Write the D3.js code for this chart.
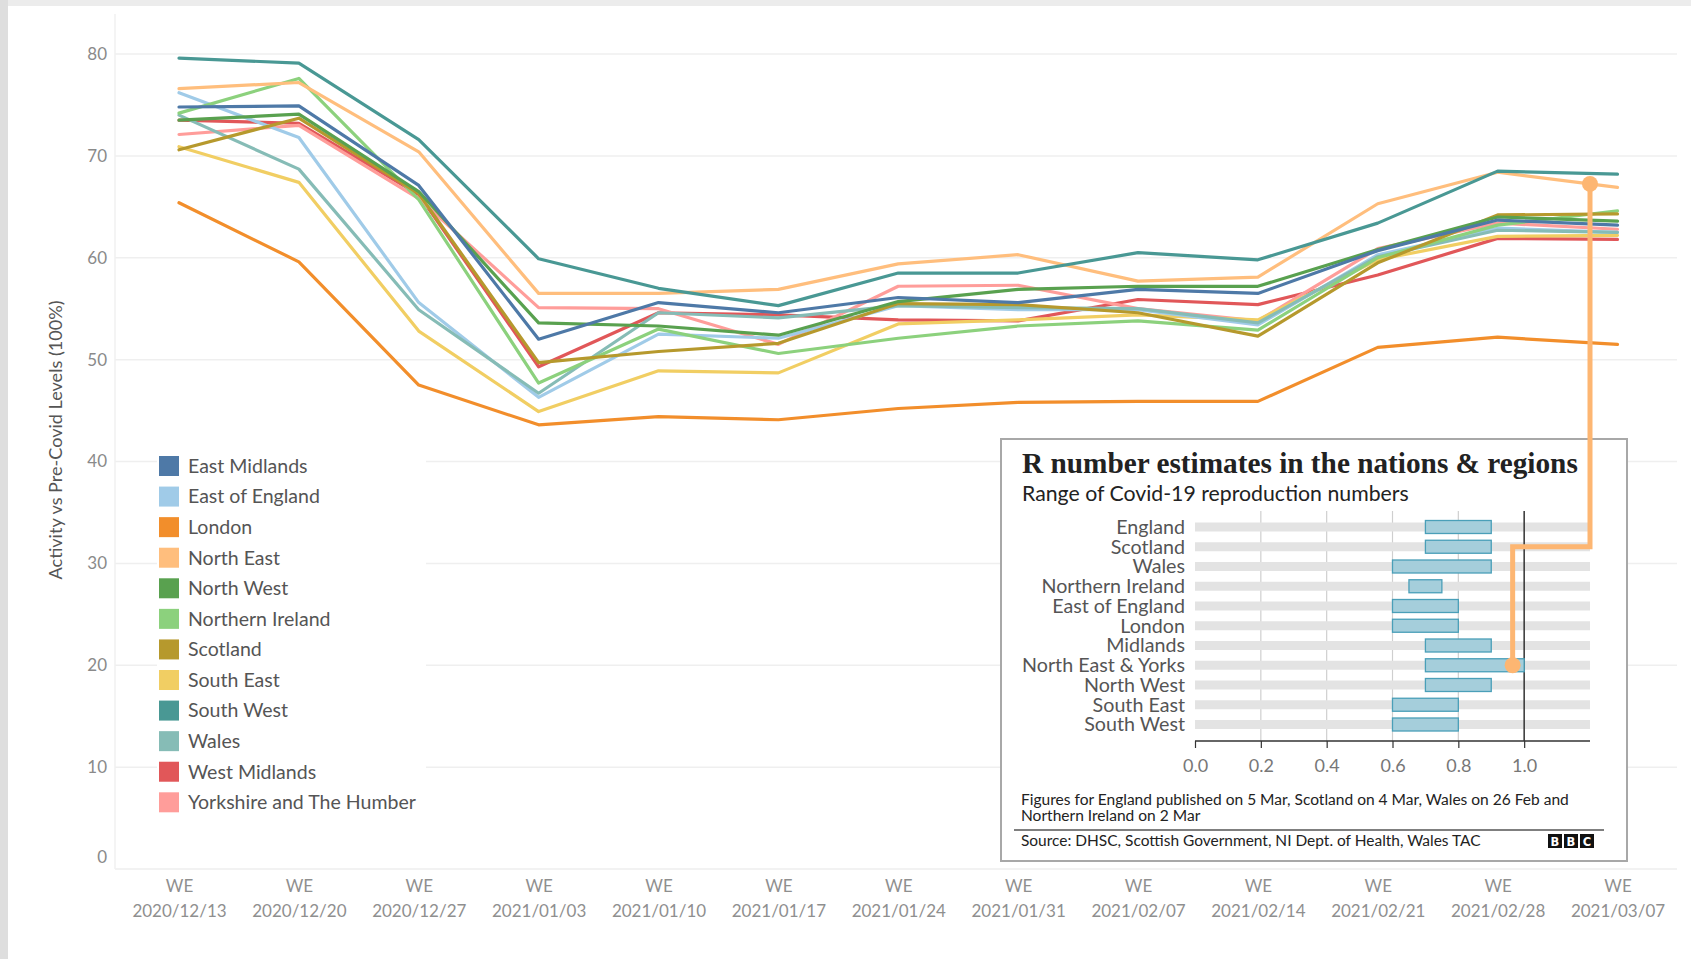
<!DOCTYPE html>
<html><head><meta charset="utf-8">
<script src="https://cdn.jsdelivr.net/npm/d3@7"></script>
<style>body{margin:0;background:#fff;} svg{display:block;}</style>
</head><body><svg id="c" width="1691" height="959"></svg>
<script>
// ---------- DATA ----------
const weeks = ["2020/12/13","2020/12/20","2020/12/27","2021/01/03","2021/01/10","2021/01/17","2021/01/24","2021/01/31","2021/02/07","2021/02/14","2021/02/21","2021/02/28","2021/03/07"];
const regions = ["East Midlands","East of England","London","North East","North West","Northern Ireland","Scotland","South East","South West","Wales","West Midlands","Yorkshire and The Humber"];
const regionColors = ["#4e79a7","#a0cbe8","#f28e2b","#ffbe7d","#59a14f","#8cd17d","#b6992d","#f1ce63","#499894","#86bcb6","#e15759","#ff9d9a"];
const eastMidlands   = [74.8,74.9,67.1,52.0,55.6,54.6,56.1,55.6,56.9,56.5,60.7,63.7,63.2];
const eastOfEngland  = [76.2,71.8,55.6,46.3,52.5,52.1,55.3,54.9,54.9,53.4,60.3,62.9,62.5];
const london         = [65.4,59.6,47.5,43.6,44.4,44.1,45.2,45.8,45.9,45.9,51.2,52.2,51.5];
const northEast      = [76.6,77.2,70.4,56.5,56.5,56.9,59.4,60.3,57.7,58.1,65.3,68.4,66.9];
const northWest      = [73.5,74.1,66.5,53.6,53.3,52.4,55.7,56.9,57.2,57.2,60.8,64.0,63.6];
const northernIreland= [74.2,77.6,65.7,47.7,53.0,50.6,52.1,53.3,53.8,52.9,60.0,63.2,64.6];
const scotland       = [70.6,73.7,66.3,49.7,50.8,51.6,55.5,55.4,54.6,52.3,59.5,64.2,64.3];
const southEast      = [70.9,67.4,52.8,44.9,48.9,48.7,53.5,53.9,54.4,53.9,59.8,62.1,62.2];
const southWest      = [79.6,79.1,71.6,59.9,57.0,55.3,58.5,58.5,60.5,59.8,63.4,68.5,68.2];
const wales          = [74.0,68.7,54.9,46.7,54.6,54.1,55.3,55.1,55.0,53.6,60.1,62.7,62.5];
const westMidlands   = [73.5,73.2,66.2,49.3,54.6,54.4,53.9,53.8,55.9,55.4,58.3,61.9,61.8];
const yorkshire      = [72.1,73.0,65.8,55.1,55.0,51.5,57.2,57.3,55.0,53.8,60.9,63.4,62.8];
const yTicks = [0,10,20,30,40,50,60,70,80];
const drawOrder = ["West Midlands","Yorkshire and The Humber","London","South East","East of England","Wales","Northern Ireland","Scotland","North West","East Midlands","North East","South West"];

const rRegions = ["England","Scotland","Wales","Northern Ireland","East of England","London","Midlands","North East & Yorks","North West","South East","South West"];
const rLow  = [0.7,0.7,0.6,0.65,0.6,0.6,0.7,0.7,0.7,0.6,0.6];
const rHigh = [0.9,0.9,0.9,0.75,0.8,0.8,0.9,1.0,0.9,0.8,0.8];
const rTicks = [0.0,0.2,0.4,0.6,0.8,1.0];

// ---------- SETUP ----------
const svg = d3.select("#c");
const W = 1691, H = 959;
const SANS = "Lato, 'Open Sans', sans-serif";
const seriesValues = [eastMidlands,eastOfEngland,london,northEast,northWest,northernIreland,scotland,southEast,southWest,wales,westMidlands,yorkshire];
const series = regions.map((name,i)=>({name, color: regionColors[i], values: seriesValues[i]}));
const drawSeries = drawOrder.map(n=>series.find(s=>s.name===n));

function fitText(sel, target){
  let fs = parseFloat(sel.attr("font-size"));
  const w = sel.node().getComputedTextLength();
  if (w>0) sel.attr("font-size", (fs*target/w).toFixed(2));
  return parseFloat(sel.attr("font-size"));
}

// page background
svg.append("rect").attr("width",W).attr("height",H).attr("fill","#fff");
svg.append("rect").attr("x",0).attr("y",0).attr("width",W).attr("height",6).attr("fill","#ececec");
svg.append("rect").attr("x",0).attr("y",0).attr("width",8).attr("height",H).attr("fill","#dedede");

// scales
const x = d3.scalePoint().domain(weeks).range([179, 1617.5]);
const y = d3.scaleLinear().domain([0,80]).range([869, 54]);
const plotL = 115, plotR = 1677;

// gridlines
svg.append("g").selectAll("line").data(yTicks.filter(d=>d>0)).join("line")
  .attr("x1",plotL).attr("x2",plotR).attr("y1",d=>y(d)).attr("y2",d=>y(d))
  .attr("stroke","#efefef").attr("stroke-width",1.5);
svg.append("line").attr("x1",plotL).attr("x2",plotR).attr("y1",y(0)).attr("y2",y(0)).attr("stroke","#eeeeee").attr("stroke-width",1.5);
svg.append("line").attr("x1",plotL).attr("x2",plotL).attr("y1",14).attr("y2",y(0)).attr("stroke","#f0f0f0").attr("stroke-width",1.5);

// y axis
const yAxis = svg.append("g").attr("transform",`translate(${plotL},0)`)
  .call(d3.axisLeft(y).tickValues(yTicks).tickSize(0).tickPadding(8));
yAxis.select(".domain").remove();
yAxis.selectAll("text").attr("font-family",SANS).attr("font-size",17).attr("fill","#8a8a8a")
  .attr("dy", d=> d===0 ? "-0.4em" : "0.32em");

// y title
const yt = svg.append("text").attr("transform","translate(62,440) rotate(-90)")
  .attr("text-anchor","middle").attr("font-family",SANS).attr("font-size",16).attr("fill","#555")
  .text("Activity vs Pre-Covid Levels (100%)");
fitText(yt, 279);

// x axis
const xAxis = svg.append("g").attr("transform",`translate(0,${y(0)})`)
  .call(d3.axisBottom(x).tickSize(0).tickFormat(""));
xAxis.select(".domain").remove();
xAxis.selectAll(".tick").each(function(d){
  const g = d3.select(this);
  g.append("text").attr("y",23).attr("text-anchor","middle").attr("font-family",SANS).attr("font-size",17).attr("fill","#8f8f8f").text("WE");
  g.append("text").attr("y",48).attr("text-anchor","middle").attr("font-family",SANS).attr("font-size",17).attr("fill","#8f8f8f").text(d);
});

// legend (white background covers gridlines)
const legend = svg.append("g");
const legY = d3.scalePoint().domain(regions).range([466, 802.3]);
legend.append("rect").attr("x",157).attr("y",447).attr("width",269).attr("height",373).attr("fill","#fff");

// lines
const line = d3.line().x((d,i)=>x(weeks[i])).y(d=>y(d));
svg.append("g").selectAll("path").data(drawSeries).join("path")
  .attr("d",d=>line(d.values)).attr("fill","none").attr("stroke",d=>d.color)
  .attr("stroke-width",3.2).attr("stroke-linejoin","round").attr("stroke-linecap","round");

legend.selectAll("rect.sw").data(series).join("rect").attr("class","sw")
  .attr("x",159).attr("y",d=>legY(d.name)-10).attr("width",20).attr("height",20).attr("fill",d=>d.color);
const legTexts = legend.selectAll("text").data(series).join("text")
  .attr("x",188).attr("y",d=>legY(d.name)).attr("dy","0.35em")
  .attr("font-family",SANS).attr("font-size",18).attr("fill","#555").text(d=>d.name);
const legFs = fitText(legTexts.filter(d=>d.name==="Yorkshire and The Humber"), 228);
legTexts.attr("font-size",legFs);

// ---------- INSET ----------
const inset = svg.append("g");
inset.append("rect").attr("x",1001).attr("y",439).attr("width",626).attr("height",422)
  .attr("fill","#fff").attr("stroke","#a8a8a8").attr("stroke-width",2);
const title = inset.append("text").attr("x",1022).attr("y",473)
  .attr("font-family","'Liberation Serif', 'DejaVu Serif', serif").attr("font-weight","bold")
  .attr("font-size",26).attr("fill","#222").text("R number estimates in the nations & regions");
fitText(title, 556);
const sub = inset.append("text").attr("x",1022).attr("y",501)
  .attr("font-family",SANS).attr("font-size",19).attr("fill","#222").text("Range of Covid-19 reproduction numbers");
fitText(sub, 387);

const rX = d3.scaleLinear().domain([0,1.2]).range([1195, 1590]);
const rY = d3.scalePoint().domain(rRegions).range([527, 724.5]);
const axisY = 741;

inset.append("g").selectAll("line").data(rTicks.filter(t=>t>0 && t<1)).join("line")
  .attr("x1",d=>rX(d)).attr("x2",d=>rX(d)).attr("y1",511).attr("y2",axisY)
  .attr("stroke","#cfcfcf").attr("stroke-width",1.2);
inset.append("g").selectAll("rect").data(rRegions).join("rect")
  .attr("x",rX(0)).attr("width",rX(1.2)-rX(0)).attr("y",d=>rY(d)-4.5).attr("height",9).attr("fill","#e3e3e3");
inset.append("line").attr("x1",rX(1)).attr("x2",rX(1)).attr("y1",511).attr("y2",axisY).attr("stroke","#333").attr("stroke-width",1.5);
inset.append("g").selectAll("rect").data(rRegions).join("rect")
  .attr("x",(d,i)=>rX(rLow[i])).attr("width",(d,i)=>rX(rHigh[i])-rX(rLow[i]))
  .attr("y",d=>rY(d)-6.5).attr("height",13)
  .attr("fill","#a5cedb").attr("stroke","#4a9fb8").attr("stroke-width",1.3);
const rowLabels = inset.append("g").selectAll("text").data(rRegions).join("text")
  .attr("x",1185).attr("y",d=>rY(d)).attr("dy","0.35em").attr("text-anchor","end")
  .attr("font-family",SANS).attr("font-size",18).attr("fill","#555").text(d=>d);
const rowFs = fitText(rowLabels.filter(d=>d==="North East & Yorks"), 163);
rowLabels.attr("font-size",rowFs);
const rAxis = inset.append("g").attr("transform",`translate(0,${axisY})`)
  .call(d3.axisBottom(rX).tickValues(rTicks).tickSize(7).tickPadding(11).tickFormat(d3.format(".1f")));
rAxis.select(".domain").attr("d",`M${rX(0)},0H${rX(1.2)}`).attr("stroke","#333").attr("stroke-width",1.5);
rAxis.selectAll(".tick line").attr("stroke","#333").attr("stroke-width",1.2);
rAxis.selectAll(".tick text").attr("font-family",SANS).attr("font-size",18).attr("fill","#777");

const f1 = inset.append("text").attr("x",1021).attr("y",805).attr("font-family",SANS).attr("font-size",14).attr("fill","#222")
  .text("Figures for England published on 5 Mar, Scotland on 4 Mar, Wales on 26 Feb and");
fitText(f1, 548);
inset.append("text").attr("x",1021).attr("y",821).attr("font-family",SANS).attr("font-size",f1.attr("font-size")).attr("fill","#222")
  .text("Northern Ireland on 2 Mar");
inset.append("line").attr("x1",1014).attr("x2",1604).attr("y1",830).attr("y2",830).attr("stroke","#555").attr("stroke-width",1.5);
const src = inset.append("text").attr("x",1021).attr("y",846).attr("font-family",SANS).attr("font-size",14).attr("fill","#222")
  .text("Source: DHSC, Scottish Government, NI Dept. of Health, Wales TAC");
fitText(src, 460);
const bbc = inset.append("g");
["B","B","C"].forEach((ch,i)=>{
  bbc.append("rect").attr("x",1548+i*16).attr("y",834).attr("width",14).attr("height",14).attr("fill","#111");
  bbc.append("text").attr("x",1555+i*16).attr("y",845.5).attr("text-anchor","middle").attr("font-family","'DejaVu Sans', sans-serif")
    .attr("font-weight","bold").attr("font-size",11.5).attr("fill","#fff").text(ch);
});

// ---------- CONNECTOR ----------
const ne = series.find(s=>s.name==="North East").values;
const cx = rX(1.2);
let cy = y(ne[ne.length-1]);
for (let i=0;i<weeks.length-1;i++){
  const x0=x(weeks[i]), x1=x(weeks[i+1]);
  if (cx>=x0 && cx<=x1){ const t=(cx-x0)/(x1-x0); cy = y(ne[i]+(ne[i+1]-ne[i])*t); }
}
const endX = rX(0.965), midY = rY("Scotland"), endY = rY("North East & Yorks");
const conn = svg.append("g");
conn.append("path").attr("d", d3.line()([[cx,cy],[cx,midY],[endX,midY],[endX,endY]]))
  .attr("fill","none").attr("stroke","#fdb672").attr("stroke-width",5);
conn.append("circle").attr("cx",cx).attr("cy",cy).attr("r",8).attr("fill","#fdb672");
conn.append("circle").attr("cx",endX).attr("cy",endY).attr("r",8).attr("fill","#fdb672");
</script></body></html>
